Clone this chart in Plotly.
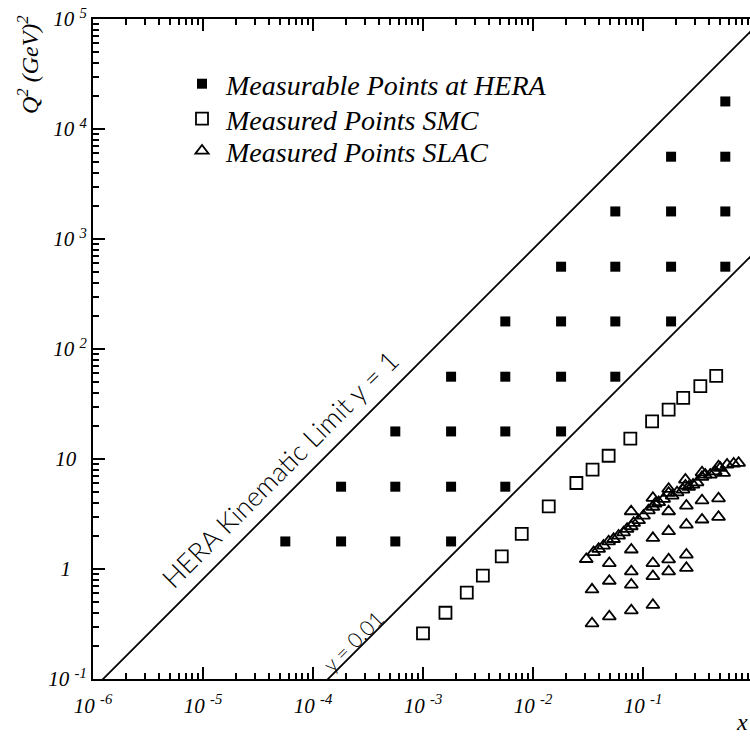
import plotly.graph_objects as go

# ---------------- data ----------------
# HERA measurable points (x, Q^2)
hera_x = [5.6e-5, 1.8e-4, 5.6e-4, 1.8e-3,
          1.8e-4, 5.6e-4, 1.8e-3, 5.6e-3,
          5.6e-4, 1.8e-3, 5.6e-3, 1.8e-2,
          1.8e-3, 5.6e-3, 1.8e-2, 5.6e-2,
          5.6e-3, 1.8e-2, 5.6e-2, 0.18,
          1.8e-2, 5.6e-2, 0.18, 0.56,
          5.6e-2, 0.18, 0.56,
          0.18, 0.56,
          0.56]
hera_q2 = [1.78] * 4 + [5.6] * 4 + [17.8] * 4 + [56] * 4 + [178] * 4 + [560] * 4 + \
          [1780] * 3 + [5600] * 2 + [17800]

# SMC measured points
smc_x = [1.0e-3, 1.6e-3, 2.5e-3, 3.5e-3, 5.2e-3, 7.9e-3, 0.0139, 0.0248, 0.0348,
         0.0487, 0.0767, 0.121, 0.171, 0.232, 0.332, 0.463]
smc_q2 = [0.26, 0.40, 0.61, 0.87, 1.30, 2.09, 3.71, 6.05, 8.0,
          10.7, 15.3, 22.0, 28.1, 36.0, 46.0, 57.0]

# SLAC measured points
slac_x = [0.0305, 0.0356, 0.0395, 0.0438, 0.0487, 0.054, 0.060, 0.0666, 0.0716, 0.0783,
          0.0822, 0.0912, 0.101, 0.112, 0.123, 0.129, 0.139, 0.154, 0.171, 0.184,
          0.204, 0.231, 0.243, 0.26, 0.285, 0.31, 0.344, 0.368, 0.409, 0.454,
          0.504, 0.541, 0.581, 0.667, 0.74,
          0.078, 0.123, 0.171, 0.243, 0.344, 0.486,
          0.123, 0.171, 0.248, 0.344, 0.486,
          0.171, 0.248, 0.344, 0.486,
          0.0783, 0.0494, 0.0783, 0.123, 0.171, 0.248,
          0.0494, 0.0783, 0.123, 0.171, 0.248,
          0.0344, 0.0344, 0.0494, 0.0783, 0.123]
slac_q2 = [1.23, 1.42, 1.52, 1.63, 1.78, 1.87, 2.01, 2.15, 2.31, 2.44,
           2.62, 2.77, 3.05, 3.41, 3.67, 3.93, 4.04, 4.33, 4.91, 4.64,
           4.97, 5.26, 5.72, 5.56, 5.83, 6.12, 6.85, 7.19, 7.19, 7.71,
           8.28, 7.46, 8.87, 9.06, 9.2,
           3.34, 4.42, 5.34, 6.48, 7.55, 8.57,
           1.91, 2.20, 2.53, 2.81, 2.97,
           3.34, 3.76, 4.20, 4.38,
           1.50, 1.13, 0.95, 1.13, 1.22, 1.35,
           0.78, 0.72, 0.86, 0.95, 1.02,
           0.65, 0.32, 0.37, 0.42, 0.47]

# kinematic lines
limit_x = [1e-6, 1.0]
limit_q2 = [0.081, 81000.0]
y001_x = [1e-6, 1.0]
y001_q2 = [0.00073, 730.0]

x_tickvals = [1e-6, 1e-5, 1e-4, 1e-3, 1e-2, 1e-1]
x_ticktext = ["10 <sup>-6</sup>", "10 <sup>-5</sup>", "10 <sup>-4</sup>",
              "10 <sup>-3</sup>", "10 <sup>-2</sup>", "10 <sup>-1</sup>"]
y_tickvals = [0.1, 1, 10, 100, 1000, 10000, 100000]
y_ticktext = ["10 <sup>-1</sup>", "1\u00a0\u00a0\u00a0", "10\u00a0\u00a0",
              "10 <sup>2</sup>", "10 <sup>3</sup>", "10 <sup>4</sup>", "10 <sup>5</sup>"]

# ---------------- figure ----------------
W, H = 750, 738
ML, MT, MB, MR = 93, 19, 59, 0
PW = W - ML - MR
PH = H - MT - MB
DEC = 110.0
x_range = [-6, -6 + PW / DEC]
y_range = [-1, 5]

minor_x = [m * 10.0 ** e for e in range(-6, 0) for m in range(2, 10)]
minor_y = [m * 10.0 ** e for e in range(-1, 5) for m in range(2, 10)]

serif = "Liberation Serif, Times New Roman, serif"
sans = "Lato, Open Sans, sans-serif"


def px_paper(px, py):
    return ((px - ML) / PW, 1 - (py - MT) / PH)


def px2data(px, py):
    return (x_range[0] + (px - ML) / DEC, y_range[1] - (py - MT) / DEC)


fig = go.Figure()
fig.add_trace(go.Scatter(x=limit_x, y=limit_q2, mode="lines",
                         line=dict(color="black", width=1.8), showlegend=False, hoverinfo="skip"))
fig.add_trace(go.Scatter(x=y001_x, y=y001_q2, mode="lines",
                         line=dict(color="black", width=1.8), showlegend=False, hoverinfo="skip"))
fig.add_trace(go.Scatter(x=hera_x, y=hera_q2, mode="markers", name="Measurable Points at HERA",
                         legend="legend",
                         marker=dict(symbol="square", size=10, color="black", line=dict(width=0))))
fig.add_trace(go.Scatter(x=smc_x, y=smc_q2, mode="markers", name="Measured Points SMC",
                         legend="legend2",
                         marker=dict(symbol="square-open", size=12, color="black", line=dict(width=1.8))))
fig.add_trace(go.Scatter(x=slac_x, y=slac_q2, mode="markers", name="Measured Points SLAC",
                         legend="legend3",
                         marker=dict(symbol="triangle-up-open", size=11.5, color="black",
                                     line=dict(width=1.8))))

leg_font = dict(family=serif, size=28, color="black", style="italic")
leg_x, _ = px_paper(178, 0)


def leg(yc):
    return dict(x=leg_x, y=px_paper(0, yc)[1], xanchor="left", yanchor="middle",
                font=leg_font, bgcolor="rgba(0,0,0,0)", borderwidth=0,
                itemsizing="trace", itemwidth=38)


tick_font = dict(family=serif, size=21, color="black", style="italic")

fig.update_layout(
    width=W, height=H,
    margin=dict(l=ML, r=MR, t=MT, b=MB),
    paper_bgcolor="white", plot_bgcolor="white",
    showlegend=True,
    legend=leg(84), legend2=leg(119), legend3=leg(151),
    xaxis=dict(type="log", range=x_range, showgrid=False, zeroline=False,
               showline=True, linecolor="black", linewidth=2, mirror="ticks",
               ticks="inside", ticklen=12, tickwidth=1.5, tickcolor="black",
               tickmode="array", tickvals=x_tickvals, ticktext=x_ticktext,
               tickfont=tick_font, ticklabelstandoff=7,
               minor=dict(ticks="inside", ticklen=6, tickwidth=1.5, tickcolor="black",
                          tickmode="array", tickvals=minor_x, showgrid=False)),
    yaxis=dict(type="log", range=y_range, showgrid=False, zeroline=False,
               showline=True, linecolor="black", linewidth=2, mirror=False,
               ticks="inside", ticklen=12, tickwidth=1.5, tickcolor="black",
               tickmode="array", tickvals=y_tickvals, ticktext=y_ticktext,
               tickfont=tick_font,
               minor=dict(ticks="inside", ticklen=6, tickwidth=1.5, tickcolor="black",
                          tickmode="array", tickvals=minor_y, showgrid=False)),
    yaxis2=dict(type="log", range=y_range, overlaying="y", side="right", anchor="x",
                showgrid=False, zeroline=False, showline=False, showticklabels=False,
                ticks="inside", ticklen=10, tickwidth=1.5, tickcolor="black",
                tickmode="array", tickvals=y_tickvals,
                minor=dict(ticks="inside", ticklen=6, tickwidth=1.5, tickcolor="black",
                           tickmode="array", tickvals=minor_y, showgrid=False)),
)

ax_, ay_ = px2data(279, 469)
fig.add_annotation(x=ax_, y=ay_, xref="x", yref="y", showarrow=False,
                   xanchor="center", yanchor="middle",
                   text="HERA Kinematic Limit y = 1", textangle=-45,
                   font=dict(family=sans, size=27, color="black", weight=300))
bx_, by_ = px2data(352, 641)
fig.add_annotation(x=bx_, y=by_, xref="x", yref="y", showarrow=False,
                   xanchor="center", yanchor="middle",
                   text="y = 0.01", textangle=-45,
                   font=dict(family=sans, size=21, color="black", weight=300))
# axis titles
tx, ty = px_paper(28, 65)
fig.add_annotation(x=tx, y=ty, xref="paper", yref="paper", showarrow=False,
                   xanchor="center", yanchor="middle",
                   text="Q<sup>2</sup> (GeV)<sup>2</sup>", textangle=-90,
                   font=dict(family=serif, size=24, color="black", style="italic"))
xx, xy = px_paper(742, 722)
fig.add_annotation(x=xx, y=xy, xref="paper", yref="paper", showarrow=False,
                   xanchor="center", yanchor="middle",
                   text="x", font=dict(family=serif, size=24, color="black", style="italic"))

fig.write_html("out.html")
